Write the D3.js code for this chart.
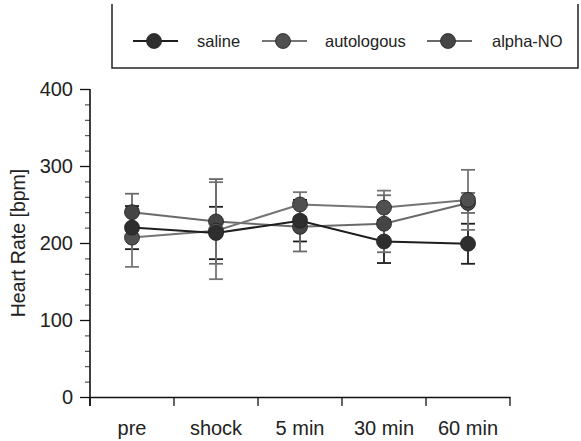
<!DOCTYPE html>
<html><head><meta charset="utf-8">
<script src="https://cdn.jsdelivr.net/npm/d3@7"></script>
<style>body{margin:0;background:#fff}svg{display:block}text{font-family:"Liberation Sans",Arial,sans-serif}</style>
</head><body>
<script>
const categories = ["pre","shock","5 min","30 min","60 min"];
const seriesNames = ["saline","autologous","alpha-NO"];
const saline = [220, 213, 229, 202, 199];
const salineSD = [28, 34, 27, 28, 26];
const autologous = [207, 216, 250, 246, 256];
const autologousSD = [38, 63, 16, 22, 39];
const alphaNO = [240, 228, 221, 225, 252];
const alphaNOSD = [24, 55, 32, 37, 13];
const yTicks = [0, 100, 200, 300, 400];

const W = 581, H = 441;
const svg = d3.select("body").append("svg").attr("width", W).attr("height", H);

const x = d3.scaleBand().domain(categories).range([90, 510]);
const y = d3.scaleLinear().domain([0, 400]).range([397, 89]);

const series = [
  {name: seriesNames[0], v: saline, sd: salineSD, line: "#1e1e1e", fill: "#2e2e2e"},
  {name: seriesNames[1], v: autologous, sd: autologousSD, line: "#757575", fill: "#505050"},
  {name: seriesNames[2], v: alphaNO, sd: alphaNOSD, line: "#6a6a6a", fill: "#454545"}
];

// Y axis
const yAxis = d3.axisLeft(y).tickValues(yTicks).tickSize(10).tickPadding(7);
const gy = svg.append("g").attr("transform", "translate(90,0)").call(yAxis);
gy.select(".domain").remove();
gy.selectAll(".tick line").attr("stroke", "#111").attr("stroke-width", 1.3);
gy.selectAll("text").attr("font-size", 20).attr("fill", "#222");
// minor ticks
const gym = svg.append("g").attr("transform", "translate(90,0)")
  .call(d3.axisLeft(y).tickValues(d3.range(20, 400, 20).filter(v => v % 100 !== 0)).tickSize(5).tickFormat(""));
gym.select(".domain").remove();
gym.selectAll(".tick line").attr("stroke", "#333").attr("stroke-width", 1);
svg.append("line").attr("x1", 90).attr("x2", 90).attr("y1", y(400)).attr("y2", 406)
  .attr("stroke", "#111").attr("stroke-width", 1.6);

// X axis
const gx = svg.append("g").attr("transform", "translate(0,397)")
  .call(d3.axisBottom(x).tickSize(0).tickPadding(24));
gx.select(".domain").attr("stroke", "#111").attr("stroke-width", 1.3);
gx.selectAll("text").attr("font-size", 20).attr("fill", "#222");
const bounds = categories.map(c => x(c)).concat([x.range()[1]]);
svg.append("g").selectAll("line").data(bounds).join("line")
  .attr("x1", d => d).attr("x2", d => d).attr("y1", 397).attr("y2", 406)
  .attr("stroke", "#111").attr("stroke-width", 1.3);

// Y title
svg.append("text").attr("transform", `translate(25,${y(200)}) rotate(-90)`)
  .attr("text-anchor", "middle").attr("font-size", 19.5).attr("fill", "#222")
  .text("Heart Rate [bpm]");

const cx = c => x(c) + x.bandwidth() / 2;

// error bars
series.forEach(s => {
  const g = svg.append("g");
  categories.forEach((c, i) => {
    const xc = cx(c), lo = y(s.v[i] - s.sd[i]), hi = y(s.v[i] + s.sd[i]);
    g.append("line").attr("x1", xc).attr("x2", xc).attr("y1", lo).attr("y2", hi)
      .attr("stroke", s.line).attr("stroke-width", 1.8);
    [lo, hi].forEach(yy => g.append("line").attr("x1", xc - 7).attr("x2", xc + 7)
      .attr("y1", yy).attr("y2", yy).attr("stroke", s.line).attr("stroke-width", 1.8));
  });
});

// lines
const lineGen = d3.line().x((d, i) => cx(categories[i])).y(d => y(d));
series.slice().reverse().forEach(s => {
  svg.append("path").datum(s.v).attr("d", lineGen).attr("fill", "none")
    .attr("stroke", s.line).attr("stroke-width", 2);
});
// markers
series.slice().reverse().forEach(s => {
  svg.append("g").selectAll("circle").data(s.v).join("circle")
    .attr("cx", (d, i) => cx(categories[i])).attr("cy", d => y(d)).attr("r", 7.5)
    .attr("fill", s.fill).attr("stroke", "#222").attr("stroke-width", 0.8);
});

// legend
const lg = svg.append("g");
lg.append("path").attr("d", "M112,4 V68 H578 V4").attr("fill", "none")
  .attr("stroke", "#222").attr("stroke-width", 1.5);
const legX = [154, 283, 448];
const txtX = [197, 325, 492];
series.forEach((s, i) => {
  lg.append("line").attr("x1", legX[i] - 21).attr("x2", legX[i] + 24).attr("y1", 41).attr("y2", 41)
    .attr("stroke", s.line).attr("stroke-width", 2);
  lg.append("circle").attr("cx", legX[i]).attr("cy", 41).attr("r", 7.5)
    .attr("fill", s.fill).attr("stroke", "#222").attr("stroke-width", 0.8);
  lg.append("text").attr("x", txtX[i]).attr("y", 47).attr("font-size", 16.5).attr("fill", "#222")
    .text(s.name);
});
</script>
</body></html>
